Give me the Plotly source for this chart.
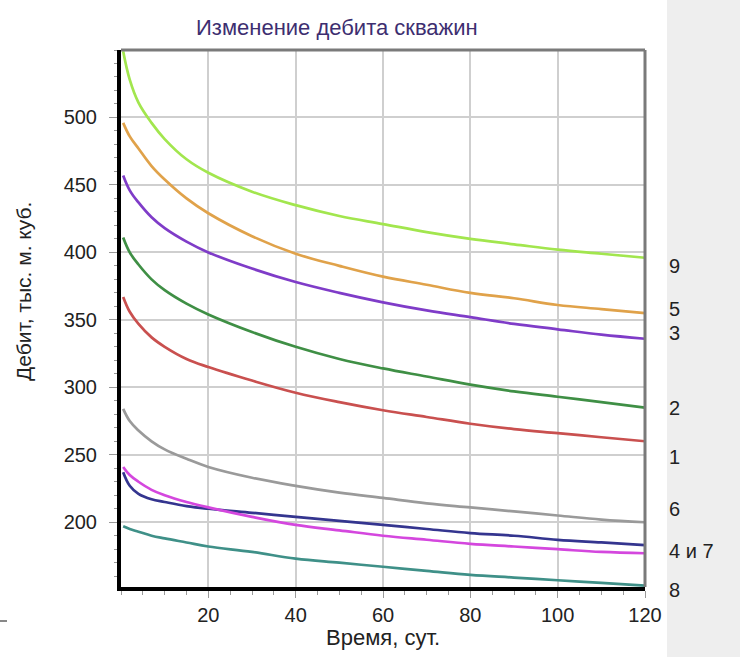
import plotly.graph_objects as go

# ---- data ----
days = [0.5, 2, 4, 7, 10, 15, 20, 30, 40, 50, 60, 70, 80, 90, 100, 110, 120]

well_9 = [549, 528, 511, 496, 484, 469, 459, 445, 435, 427, 421, 415, 410, 406, 402, 399, 396]
well_5 = [496, 486, 477, 464, 454, 440, 429, 412, 399, 390, 382, 376, 370, 366, 361, 358, 355]
well_3 = [457, 446, 437, 426, 418, 408, 400, 388, 378, 370, 363, 357, 352, 347, 343, 339, 336]
well_2 = [411, 400, 391, 380, 372, 362, 354, 341, 330, 321, 314, 308, 302, 297, 293, 289, 285]
well_1 = [367, 356, 347, 337, 330, 321, 315, 305, 296, 289, 283, 278, 273, 269, 266, 263, 260]
well_6 = [284, 275, 268, 260, 254, 247, 241, 233, 227, 222, 218, 214, 211, 208, 205, 202, 200]
well_4 = [237, 227, 221, 217, 215, 212, 210, 207, 204, 201, 198, 195, 192, 190, 187, 185, 183]
well_7 = [241, 235, 230, 224, 220, 215, 211, 204, 198, 194, 190, 187, 184, 182, 180, 178, 177]
well_8 = [197, 195, 193, 190, 188, 185, 182, 178, 173, 170, 167, 164, 161, 159, 157, 155, 153]

series_names = ["9", "5", "3", "2", "1", "6", "4", "7", "8"]
series_values = [well_9, well_5, well_3, well_2, well_1, well_6, well_4, well_7, well_8]
series_colors = ["#a2e64e", "#e0a24a", "#7f3cc8", "#3f8f45", "#c9504f",
                 "#9a9a9a", "#34358f", "#d447de", "#3f9088"]

end_labels = ["9", "5", "3", "2", "1", "6", "4 и 7", "8"]
end_label_y = [390, 358, 340, 285, 248, 210, 179, 150]

x_ticks = [20, 40, 60, 80, 100, 120]
y_ticks = [200, 250, 300, 350, 400, 450, 500]

title_text = "Изменение дебита скважин"
x_title = "Время, сут."
y_title = "Дебит, тыс. м. куб."

FONT = "Liberation Sans, Arial, sans-serif"
Y_MIN, Y_MAX = 152, 550

fig = go.Figure()
for name, vals, col in zip(series_names, series_values, series_colors):
    fig.add_trace(go.Scatter(x=days, y=vals, mode="lines", name=name,
                             line=dict(color=col, width=2.7, shape="spline", smoothing=1.1),
                             showlegend=False, hoverinfo="skip"))

fig.update_layout(
    width=740, height=657,
    margin=dict(l=121, r=95, t=50, b=70),
    paper_bgcolor="white", plot_bgcolor="white",
    font=dict(family=FONT, color="#222222", size=20),
    title=dict(text=title_text, x=0.412, xref="paper", xanchor="center",
               y=1 - 27 / 657, yref="container", yanchor="middle",
               font=dict(size=22, color="#3d2e70", family=FONT)),
)

fig.update_xaxes(range=[0, 120], tickvals=x_ticks, ticktext=[str(v) for v in x_ticks],
                 showgrid=True, gridcolor="#cfcfcf", gridwidth=2,
                 showline=True, linecolor="black", linewidth=4,
                 ticks="outside", ticklen=7, tickcolor="#999999", tickwidth=1,
                 ticklabelstandoff=0, zeroline=False,
                 tickfont=dict(size=20, color="#222222"),
                 minor=dict(dtick=5, tick0=0, ticks="outside", ticklen=4,
                            tickcolor="#999999", showgrid=False))
fig.update_yaxes(range=[Y_MIN, Y_MAX], tickvals=y_ticks, ticktext=[str(v) for v in y_ticks],
                 showgrid=True, gridcolor="#cfcfcf", gridwidth=2,
                 showline=True, linecolor="black", linewidth=4,
                 ticks="outside", ticklen=8, tickcolor="#999999", tickwidth=1,
                 ticklabelstandoff=8, zeroline=False,
                 tickfont=dict(size=20, color="#222222"),
                 minor=dict(dtick=10, tick0=0, ticks="outside", ticklen=3,
                            tickcolor="#999999", showgrid=False))

# grey strip on the right
fig.add_shape(type="rect", xref="paper", yref="paper",
              x0=(667 - 121) / 524, x1=(745 - 121) / 524, y0=-0.2, y1=1.2,
              fillcolor="#eeeeee", line=dict(width=0), layer="below")
# top and right borders (grey)
fig.add_shape(type="line", xref="paper", yref="paper", x0=0, x1=1, y0=1, y1=1,
              line=dict(color="#7a7a7a", width=3))
fig.add_shape(type="line", xref="paper", yref="paper", x0=1, x1=1, y0=0, y1=1,
              line=dict(color="#7a7a7a", width=3))
# small dash bottom-left
fig.add_shape(type="line", xref="paper", yref="paper",
              x0=(0 - 121) / 524, x1=(7 - 121) / 524,
              y0=-(621 - 587) / 537, y1=-(621 - 587) / 537,
              line=dict(color="#888888", width=2))

# axis titles
fig.add_annotation(text=y_title, xref="paper", yref="paper",
                   x=(23 - 121) / 524, y=1 - (292 - 50) / 537, textangle=-90,
                   showarrow=False, xanchor="center", yanchor="middle",
                   font=dict(size=21, color="#222222", family=FONT))
fig.add_annotation(text=x_title, xref="paper", yref="paper",
                   x=(383 - 121) / 524, y=-(637 - 587) / 537,
                   showarrow=False, xanchor="center", yanchor="middle",
                   font=dict(size=22, color="#222222", family=FONT))

# end labels
for lab, yv in zip(end_labels, end_label_y):
    fig.add_annotation(text=lab, xref="paper", yref="paper",
                       x=(667 - 121) / 524, y=(yv - Y_MIN) / (Y_MAX - Y_MIN),
                       showarrow=False, xanchor="left", yanchor="middle",
                       font=dict(size=20, color="#222222", family=FONT))

fig.write_html("out.html")
